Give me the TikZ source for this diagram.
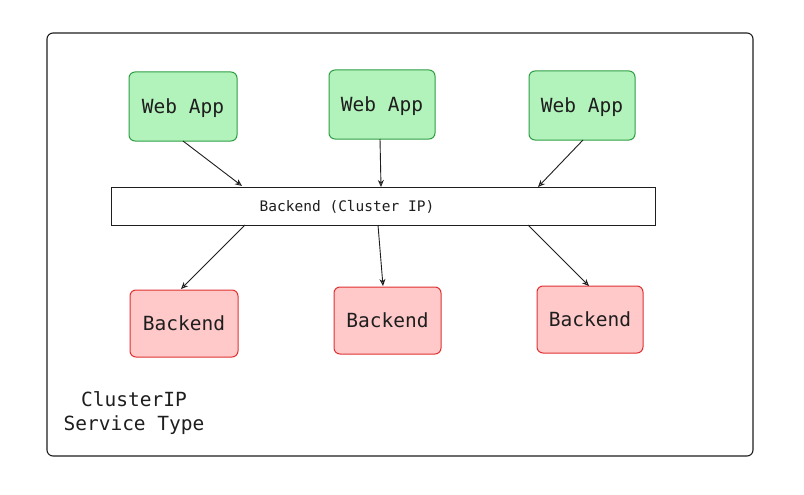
\documentclass[tikz,border=0pt]{standalone}
\usepackage{fontspec}
\setmonofont{DejaVu Sans Mono}
\usetikzlibrary{arrows.meta}
\definecolor{gfill}{HTML}{B2F2BB}
\definecolor{gline}{HTML}{2F9E44}
\definecolor{rfill}{HTML}{FFC9C9}
\definecolor{rline}{HTML}{E03131}
\definecolor{ink}{HTML}{1E1E1E}
\begin{document}
\begin{tikzpicture}[x=1pt,y=-1pt,
  boxfont/.style={font=\ttfamily\fontsize{19.5}{22}\selectfont,text=ink,text depth=0pt},
  webbox/.style={draw=gline,fill=gfill,rounded corners=6pt,line width=1pt,inner sep=0pt,boxfont},
  bebox/.style={draw=rline,fill=rfill,rounded corners=6pt,line width=1pt,inner sep=0pt,boxfont},
  bar/.style={draw=ink,fill=white,line width=1pt,inner sep=0pt},
  conn/.style={draw=ink,line width=0.9pt,-{Stealth[length=7pt,width=6pt,open]}}]
\useasboundingbox (0,0) rectangle (804,495);
\fill[white] (0,0) rectangle (804,495);
\draw[ink,line width=1.1pt,rounded corners=6pt] (47,33) rectangle (753,456);
% web apps
\node[webbox,minimum width=108pt,minimum height=69pt] (w1) at (183,106.5) {Web App};
\node[webbox,minimum width=106pt,minimum height=69pt] (w2) at (382,104.5) {Web App};
\node[webbox,minimum width=106pt,minimum height=69pt] (w3) at (582,105.5) {Web App};
% bar
\node[bar,minimum width=544pt,minimum height=38pt] (bar) at (383,206) {};
\node[font=\ttfamily\fontsize{14.5}{17}\selectfont,text=ink] (bl) at (347,207) {Backend (Cluster IP)};
% backends
\node[bebox,minimum width=108pt,minimum height=67pt] (b1) at (184,323.5) {Backend};
\node[bebox,minimum width=107pt,minimum height=67pt] (b2) at (387.5,320.5) {Backend};
\node[bebox,minimum width=106pt,minimum height=67pt] (b3) at (590,319.5) {Backend};
% label
\node[font=\ttfamily\fontsize{19.5}{24}\selectfont,text=ink,align=center] (lab) at (134,413) {ClusterIP\\Service Type};
% coordinates
\coordinate (w1s) at (183,141);
\coordinate (w2s) at (380,139);
\coordinate (w3s) at (583,140);
\coordinate (a1) at (242,186);
\coordinate (a2) at (381,187);
\coordinate (a3) at (538,187);
\coordinate (d1) at (245,225);
\coordinate (d2) at (378,225);
\coordinate (d3) at (528,225);
\coordinate (b1t) at (181,289);
\coordinate (b2t) at (383,286);
\coordinate (b3t) at (589,286);
\draw[conn] (w1s) -- (a1);
\draw[conn] (w2s) -- (a2);
\draw[conn] (w3s) -- (a3);
\draw[conn] (d1) -- (b1t);
\draw[conn] (d2) -- (b2t);
\draw[conn] (d3) -- (b3t);
\end{tikzpicture}
\end{document}
